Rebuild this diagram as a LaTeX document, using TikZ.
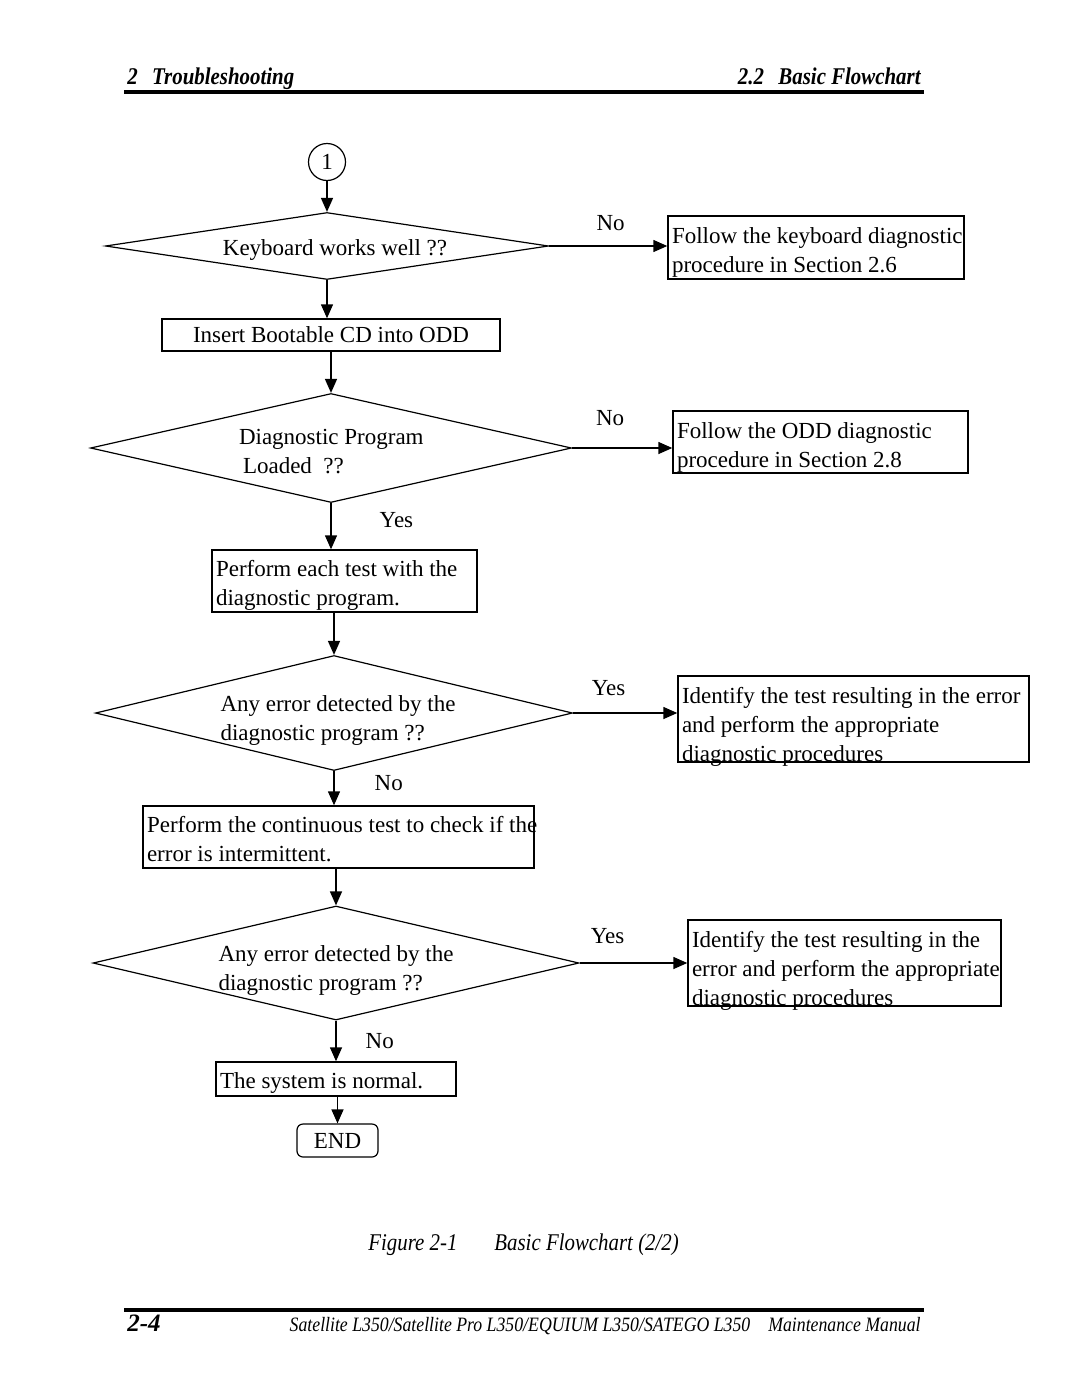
\documentclass[tikz,border=0pt]{standalone}
\usepackage{fontspec}
\setmainfont{Liberation Serif}
\newfontfamily\narrowfont{Liberation Serif}[FakeStretch=0.87]
\usetikzlibrary{shapes.geometric,arrows.meta}

\tikzstyle{flowbox} = [draw=black, line width=0.7pt, rectangle,
    inner xsep=2pt, inner ysep=0pt, align=flush left]
\tikzstyle{decision} = [draw=black, line width=0.6pt, diamond,
    inner sep=0pt, align=flush left]
\tikzstyle{connector} = [draw=black, line width=0.6pt, circle,
    minimum size=18.5pt, inner sep=0pt]
\tikzstyle{endbox} = [draw=black, line width=0.6pt, rectangle,
    rounded corners=3pt, minimum width=40.5pt, minimum height=16.5pt]
\tikzstyle{answer} = [inner sep=1.5pt]
\tikzstyle{flowline} = [line width=0.7pt, -{Triangle[length=7pt,width=6pt]}]
\tikzstyle{pagetext} = [inner sep=0pt]

\begin{document}
\begin{tikzpicture}[x=0.5pt, y=-0.5pt, font=\fontsize{11.5}{14.5}\selectfont]
\useasboundingbox (0,0) rectangle (1080,1397);

% page header
\node[pagetext, anchor=base west, font=\narrowfont\bfseries\itshape\fontsize{12}{14}\selectfont]
    (chapter) at (127,84) {2\hspace{0.6em}Troubleshooting};
\node[pagetext, anchor=base east, font=\narrowfont\bfseries\itshape\fontsize{12}{14}\selectfont]
    (section) at (921,84) {2.2\hspace{0.6em}Basic Flowchart};
\draw[line width=2pt] (124,92) -- (924,92);

% flowchart
\node[connector] (start) at (327,162) {1};
\node[decision, align=flush center, aspect=6.6, minimum width=221.5pt, minimum height=33.5pt,
    text height=10pt, text depth=1pt] (kbd) at (327,246)
    {\hspace*{8pt}Keyboard works well ??};
\node[flowbox, text width=144pt, minimum height=31.5pt, text height=10pt, text depth=14.5pt]
    (kbdfix) at (816,247.5)
    {\mbox{Follow the keyboard diagnostic}\\procedure in Section 2.6};
\node[flowbox, align=flush center, text width=165pt, minimum height=16pt] (boot) at (331,335)
    {Insert Bootable CD into ODD};
\node[decision, aspect=4.4, text width=92pt, minimum width=240.5pt, minimum height=54.5pt,
    text height=10pt, text depth=14pt] (loaded) at (331,448)
    {\mbox{Diagnostic Program}\\\hspace*{2pt}Loaded\ \ ??};
\node[flowbox, text width=143.5pt, minimum height=31pt, text height=10pt, text depth=14pt]
    (oddfix) at (820.5,442)
    {Follow the ODD diagnostic\\procedure in Section 2.8};
\node[flowbox, text width=128.5pt, minimum height=31pt, text height=10pt, text depth=15pt]
    (eachtest) at (344.5,581)
    {Perform each test with the\\diagnostic program.};
\node[decision, aspect=4.15, text width=117.5pt, minimum width=238.5pt, minimum height=57.5pt,
    text height=10pt, text depth=12pt] (err1) at (334,713)
    {\mbox{\hspace*{2pt}Any error detected by the}\\\hspace*{2pt}diagnostic program ??};
\node[flowbox, text width=171.5pt, minimum height=43pt, text height=10pt, text depth=26pt]
    (errfix1) at (853.5,719)
    {\mbox{Identify the test resulting in the error}\\and perform the appropriate\\diagnostic procedures};
\node[flowbox, text width=191.5pt, minimum height=31pt, text height=10pt, text depth=15pt]
    (contest) at (338.5,837)
    {\mbox{Perform the continuous test to check if the}\\error is intermittent.};
\node[decision, aspect=4.26, text width=117.5pt, minimum width=243pt, minimum height=57pt,
    text height=10pt, text depth=12pt] (err2) at (336,963)
    {\mbox{Any error detected by the}\\diagnostic program ??};
\node[flowbox, text width=152.5pt, minimum height=43pt, text height=10pt, text depth=26pt]
    (errfix2) at (844.5,963)
    {Identify the test resulting in the\\\mbox{error and perform the appropriate}\\diagnostic procedures};
\node[flowbox, text width=116pt, minimum height=17pt, text height=11pt, text depth=2pt]
    (normal) at (336,1079)
    {The system is normal.};
\node[endbox] (finish) at (337.5,1140.5) {END};

% connectors
\draw[flowline] (start) -- (start |- kbd.north);
\draw[flowline] (kbd.east) -- node[answer, above=6pt, pos=0.52] (kbdno) {No} (kbd.east -| kbdfix.west);
\draw[flowline] (kbd.south) -- (kbd.south |- boot.north);
\draw[flowline] (boot.south) -- (boot.south |- loaded.north);
\draw[flowline] (loaded.east) -- node[answer, above=9.5pt, pos=0.38] (loadno) {No} (loaded.east -| oddfix.west);
\draw[flowline] (loaded.south) -- node[answer, right=22.5pt, pos=0.36] (loadyes) {Yes} (loaded.south |- eachtest.north);
\draw[flowline] (eachtest.south -| err1.north) -- (err1.north);
\draw[flowline] (err1.east) -- node[answer, above=7pt, pos=0.34] (err1yes) {Yes} (err1.east -| errfix1.west);
\draw[flowline] (err1.south) -- node[answer, right=18.5pt, pos=0.36] (err1no) {No} (err1.south |- contest.north);
\draw[flowline] (contest.south -| err2.north) -- (err2.north);
\draw[flowline] (err2.east) -- node[answer, above=8pt, pos=0.26] (err2yes) {Yes} (err2.east -| errfix2.west);
\draw[flowline] (err2.south) -- node[answer, right=13pt, pos=0.5] (err2no) {No} (err2.south |- normal.north);
\draw[flowline] (normal.south -| finish.north) -- (finish.north);

% caption and page footer
\node[pagetext, anchor=base west, font=\narrowfont\itshape\fontsize{12}{14}\selectfont]
    (fignum) at (368,1250) {Figure 2-1};
\node[pagetext, anchor=base west, font=\narrowfont\itshape\fontsize{12}{14}\selectfont]
    (figtitle) at (494,1250) {Basic Flowchart (2/2)};
\draw[line width=2pt] (124,1310) -- (924,1310);
\node[pagetext, anchor=base west, font=\bfseries\itshape\fontsize{12.5}{15}\selectfont]
    (pagenum) at (127,1331) {2-4};
\node[pagetext, anchor=base east, font=\narrowfont\itshape\fontsize{10.2}{12}\selectfont]
    (manual) at (921,1331) {Satellite L350/Satellite Pro L350/EQUIUM L350/SATEGO L350\hspace{9pt}Maintenance Manual};
\end{tikzpicture}
\end{document}
